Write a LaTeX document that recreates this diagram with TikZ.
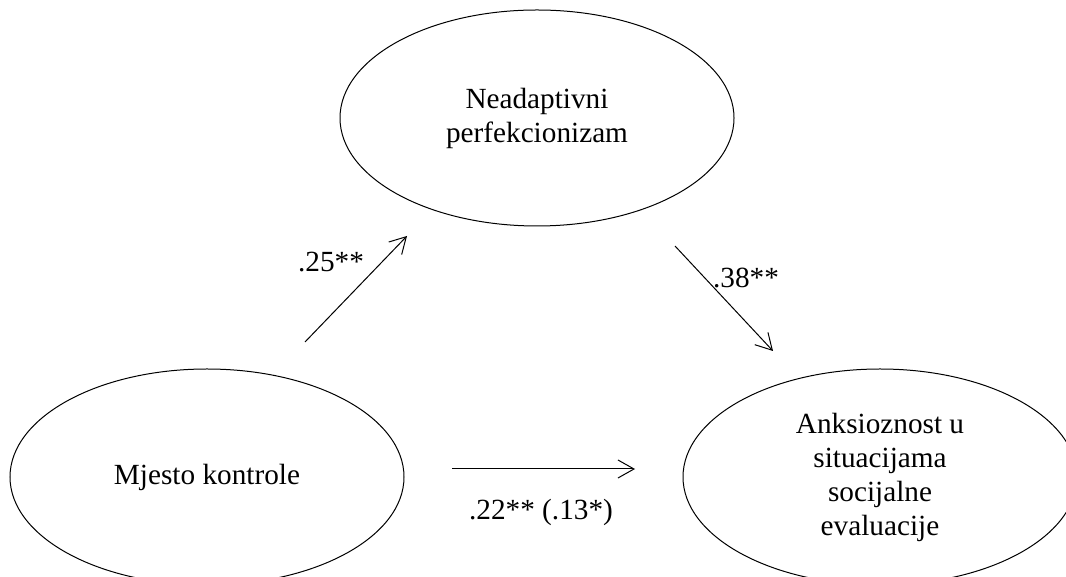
\documentclass[tikz,border=0pt]{standalone}
\usepackage{fontspec}
\setmainfont{Liberation Serif}
\usetikzlibrary{shapes.geometric, arrows.meta, positioning}

\begin{document}
\begin{tikzpicture}[x=0.4pt, y=-0.4pt,
    latent/.style={ellipse, draw, thin, minimum width=157.6pt, minimum height=86.4pt,
      inner sep=0pt, align=center, font=\fontsize{11.7}{13.6}\selectfont},
    effect/.style={thin, -{Straight Barb[length=6.4pt, width=7.2pt]}},
    coef/.style={inner sep=0pt, font=\fontsize{11.7}{13.6}\selectfont}]
  \useasboundingbox (0,0) rectangle (1066,577);
  \clip (0,0) rectangle (1066,577);

  % latent variables
  \node[latent] (lok) at (207,477) {Mjesto kontrole};
  \node[latent] (perf) at (537,118) {Neadaptivni\\perfekcionizam};
  \node[latent] (anks) at (880,477) {Anksioznost u\\situacijama\\socijalne\\evaluacije};

  % arrow ends
  \coordinate (a1) at (305,342);
  \coordinate (b1) at (407,236);
  \coordinate (a2) at (675,246);
  \coordinate (b2) at (773,351);
  \coordinate (a3) at (452,469);
  \coordinate (b3) at (635,469);

  \draw[effect] (a1) -- (b1);
  \draw[effect] (a2) -- (b2);
  \draw[effect] (a3) -- (b3);

  % coefficients
  \node[coef] (c1) at (331,262) {.25**};
  \node[coef] (c2) at (746,278) {.38**};
  \node[coef] (c3) at (541,512) {.22** (.13*)};
\end{tikzpicture}
\end{document}
